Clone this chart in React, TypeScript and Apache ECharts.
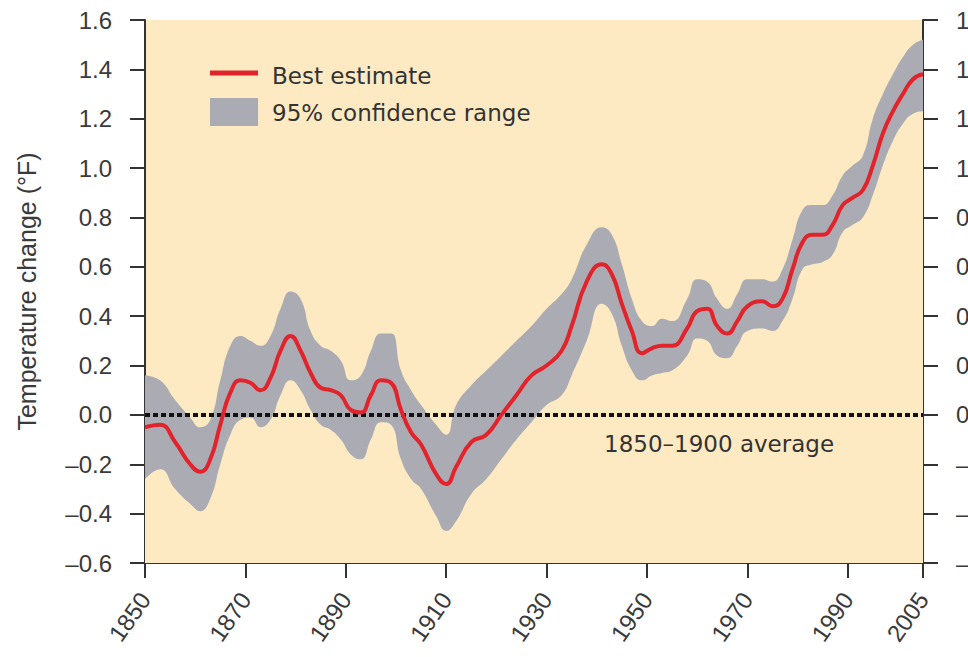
import React, { useEffect, useRef } from "react";
import * as echarts from "echarts";

const years = [
  1850, 1853, 1856, 1859, 1861, 1863, 1865, 1867, 1869, 1871, 1873, 1875, 1877, 1879, 1881, 1883, 1885, 1887,
  1889, 1891, 1893, 1895, 1897, 1899, 1901, 1903, 1905, 1908, 1910, 1912, 1915, 1918, 1921, 1924, 1927, 1930,
  1933, 1935, 1938, 1941, 1943, 1945, 1947, 1949, 1951, 1953, 1955, 1958, 1960, 1962, 1964, 1966, 1968, 1970,
  1973, 1975, 1977, 1979, 1981, 1983, 1985, 1987, 1989, 1991, 1993, 1995, 1997, 1999, 2001, 2003, 2005,
];

const bestEstimate = [
  -0.05, -0.04, -0.11, -0.2, -0.23, -0.18, -0.04, 0.09, 0.14, 0.13, 0.1, 0.15, 0.26, 0.32, 0.26, 0.17, 0.11, 0.1,
  0.08, 0.02, 0.01, 0.08, 0.14, 0.13, 0.02, -0.07, -0.12, -0.24, -0.28, -0.21, -0.11, -0.08, 0.0, 0.08, 0.16, 0.2,
  0.26, 0.36, 0.54, 0.61, 0.57, 0.45, 0.34, 0.25, 0.27, 0.28, 0.28, 0.35, 0.42, 0.43, 0.36, 0.33, 0.38, 0.44,
  0.46, 0.44, 0.47, 0.59, 0.7, 0.73, 0.73, 0.77, 0.85, 0.88, 0.91, 1.01, 1.14, 1.23, 1.3, 1.36, 1.38,
];

const upperBound = [
  0.16, 0.14, 0.06, -0.01, -0.05, -0.02, 0.14, 0.28, 0.32, 0.3, 0.28, 0.32, 0.43, 0.5, 0.47, 0.34, 0.28, 0.26,
  0.22, 0.14, 0.16, 0.26, 0.33, 0.33, 0.18, 0.1, 0.04, -0.04, -0.08, 0.04, 0.12, 0.18, 0.24, 0.3, 0.36, 0.43,
  0.49, 0.55, 0.69, 0.76, 0.73, 0.61, 0.47, 0.38, 0.36, 0.39, 0.38, 0.47, 0.55, 0.54, 0.47, 0.43, 0.49, 0.55,
  0.55, 0.54, 0.59, 0.71, 0.83, 0.85, 0.85, 0.89, 0.97, 1.01, 1.05, 1.2, 1.3, 1.38, 1.45, 1.5, 1.52,
];

const lowerBound = [
  -0.26, -0.22, -0.3, -0.36, -0.39, -0.34, -0.2, -0.08, -0.02, -0.01, -0.05, -0.02, 0.08, 0.14, 0.1, 0.02, -0.04,
  -0.06, -0.1, -0.16, -0.18, -0.1, -0.03, -0.04, -0.18, -0.26, -0.3, -0.41, -0.47, -0.43, -0.32, -0.26, -0.18,
  -0.1, -0.03, 0.04, 0.08, 0.16, 0.3, 0.45, 0.41, 0.28, 0.18, 0.14, 0.16, 0.17, 0.18, 0.24, 0.31, 0.3, 0.24, 0.23,
  0.28, 0.34, 0.35, 0.34, 0.38, 0.47, 0.59, 0.61, 0.62, 0.65, 0.74, 0.77, 0.8, 0.89, 1.01, 1.11, 1.18, 1.22, 1.23,
];

const xTickValues = [1850, 1870, 1890, 1910, 1930, 1950, 1970, 1990, 2005];
const yMin = -0.6;
const yMax = 1.6;
const yStep = 0.2;
const baselineValue = 0;

const labels = {
  yName: "Temperature change (°F)",
  best: "Best estimate",
  range: "95% confidence range",
  baseline: "1850–1900 average",
};

const AXIS_COLOR = "#333333";
const TEXT_COLOR = "#3a3a3a";
const BAND_COLOR = "#abacb3";
const RED = "#e3232b";
const BG = "#fdeac2";

const fmtY = (v: number) => {
  const s = Math.abs(v).toFixed(1);
  return v < -1e-9 ? "–" + s : s;
};

export default function App() {
  const ref = useRef<HTMLDivElement>(null);

  useEffect(() => {
    document.body.style.margin = "0";
    if (!ref.current) return;
    const chart = echarts.init(ref.current, null, { renderer: "svg" });

    const upperData = years.map((y, i) => [y, upperBound[i]]);
    const lowerData = years.map((y, i) => [y, lowerBound[i]]);
    const bestData = years.map((y, i) => [y, bestEstimate[i]]);

    const yAxisCommon = {
      type: "value",
      min: yMin,
      max: yMax,
      interval: yStep,
      splitLine: { show: false },
      axisLine: { show: true, onZero: false, lineStyle: { color: AXIS_COLOR, width: 2 } },
      axisTick: { show: true, length: 15, lineStyle: { color: AXIS_COLOR, width: 2 } },
      axisLabel: {
        margin: 33,
        fontSize: 24,
        fontFamily: "Liberation Sans, Arial, sans-serif",
        color: TEXT_COLOR,
        formatter: fmtY,
      },
    };

    const textStyle = {
      fontSize: 23,
      fontFamily: "DejaVu Sans, sans-serif",
      fill: "#333333",
    };

    chart.setOption({
      animation: false,
      grid: {
        left: 145,
        right: 45,
        top: 20,
        bottom: 94,
        containLabel: false,
        outerBoundsMode: "none",
        show: true,
        backgroundColor: BG,
        borderWidth: 0,
      },
      xAxis: {
        type: "value",
        min: 1850,
        max: 2005,
        splitLine: { show: false },
        axisLine: { show: true, onZero: false, lineStyle: { color: AXIS_COLOR, width: 2 } },
        axisTick: {
          show: true,
          length: 15,
          customValues: xTickValues,
          lineStyle: { color: AXIS_COLOR, width: 2 },
        },
        axisLabel: {
          customValues: xTickValues,
          rotate: 55,
          margin: 32,
          fontSize: 24,
          fontFamily: "Liberation Sans, Arial, sans-serif",
          color: TEXT_COLOR,
          formatter: (v: number) => String(v),
        },
      },
      yAxis: [
        {
          ...yAxisCommon,
          position: "left",
          name: labels.yName,
          nameLocation: "middle",
          nameGap: 106,
          nameTextStyle: {
            fontSize: 25,
            fontFamily: "Liberation Sans, Arial, sans-serif",
            color: TEXT_COLOR,
          },
        },
        { ...yAxisCommon, position: "right" },
      ],
      series: [
        {
          type: "line",
          name: labels.range,
          data: upperData,
          smooth: 0.5,
          symbol: "none",
          lineStyle: { width: 0, color: BAND_COLOR },
          areaStyle: { color: BAND_COLOR, opacity: 1, origin: "start" },
          silent: true,
          z: 2,
        },
        {
          type: "line",
          name: "lower",
          data: lowerData,
          smooth: 0.5,
          symbol: "none",
          lineStyle: { width: 0, color: BG },
          areaStyle: { color: BG, opacity: 1, origin: "start" },
          silent: true,
          z: 3,
        },
        {
          type: "line",
          name: "baseline",
          data: [],
          symbol: "none",
          z: 4,
          markLine: {
            silent: true,
            symbol: "none",
            label: { show: false },
            lineStyle: { color: "#111111", width: 4, type: [5, 3] },
            data: [{ yAxis: baselineValue }],
          },
        },
        {
          type: "line",
          name: labels.best,
          data: bestData,
          smooth: 0.5,
          symbol: "none",
          lineStyle: { color: RED, width: 4 },
          z: 5,
        },
      ],
      graphic: {
        z: 100,
        elements: [
          {
            type: "line",
            z: 100,
            shape: { x1: 210, y1: 73, x2: 258, y2: 73 },
            style: { stroke: RED, lineWidth: 5 },
          },
          {
            type: "text",
            z: 100,
            left: 272,
            top: 64,
            style: { text: labels.best, ...textStyle },
          },
          {
            type: "rect",
            z: 100,
            shape: { x: 210, y: 98, width: 48, height: 28 },
            style: { fill: BAND_COLOR },
          },
          {
            type: "text",
            z: 100,
            left: 272,
            top: 101,
            style: { text: labels.range, ...textStyle },
          },
          {
            type: "text",
            z: 100,
            left: 604,
            top: 432,
            style: { text: labels.baseline, ...textStyle },
          },
        ],
      },
    });

    return () => chart.dispose();
  }, []);

  return <div ref={ref} style={{ width: 968, height: 657 }} />;
}
